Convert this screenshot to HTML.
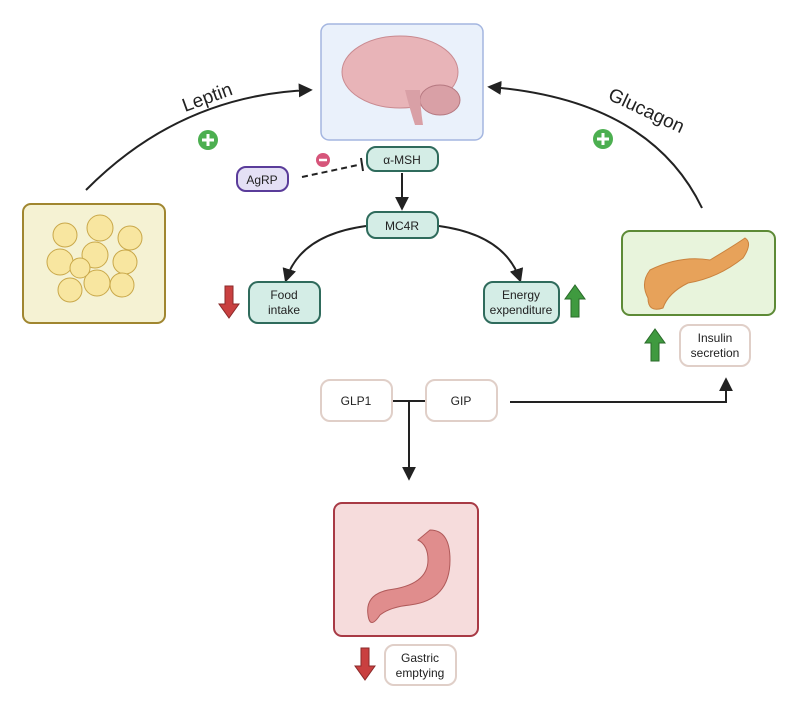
<!DOCTYPE html>
<html><head><style>body{margin:0;background:#fff}svg{display:block}text{font-family:"Liberation Sans",sans-serif}</style></head>
<body>
<svg width="800" height="710" viewBox="0 0 800 710" xmlns="http://www.w3.org/2000/svg">
<defs>
<marker id="a" viewBox="0 0 10 10" refX="8" refY="5" markerWidth="7" markerHeight="7" orient="auto"><path d="M0,0L10,5L0,10z" fill="#222"/></marker>
</defs>
<!-- boxes -->
<rect x="321" y="24" width="162" height="116" rx="8" fill="#eaf1fb" stroke="#a4b6e0" stroke-width="1.5"/>
<ellipse cx="400" cy="72" rx="58" ry="36" fill="#e8b4b8" stroke="#c98a90"/>
<ellipse cx="440" cy="100" rx="20" ry="15" fill="#d9a0a6" stroke="#b57880"/>
<path d="M405,90 q5,20 10,35 l8,0 q-3,-20 -3,-35z" fill="#d9a0a6"/>
<rect x="23" y="204" width="142" height="119" rx="8" fill="#f5f2d3" stroke="#a08630" stroke-width="2"/>
<g fill="#f8e6a0" stroke="#c9a84a">
<circle cx="65" cy="235" r="12"/><circle cx="100" cy="228" r="13"/><circle cx="130" cy="238" r="12"/><circle cx="60" cy="262" r="13"/><circle cx="95" cy="255" r="13"/><circle cx="125" cy="262" r="12"/><circle cx="70" cy="290" r="12"/><circle cx="97" cy="283" r="13"/><circle cx="122" cy="285" r="12"/><circle cx="80" cy="268" r="10"/></g>
<rect x="622" y="231" width="153" height="84" rx="8" fill="#e8f4dc" stroke="#5d8a36" stroke-width="2"/>
<path d="M650,270 q30,-15 60,-10 q25,-15 35,-22 q8,5 -2,20 q-25,20 -55,25 q-20,10 -25,25 q-15,5 -15,-10 q-8,-15 2,-28z" fill="#e7a25a" stroke="#c9823e"/>
<rect x="334" y="503" width="144" height="133" rx="8" fill="#f6dcdc" stroke="#a83a45" stroke-width="2"/>
<path d="M430,530 q20,0 20,30 q0,40 -40,45 q-20,2 -30,10 q-10,15 -12,0 q-3,-20 20,-25 q40,-5 40,-30 q0,-15 -10,-20z" fill="#e08d8d" stroke="#b05a5a"/>
<!-- connectors -->
<path d="M86,190 Q180,95 310,90" fill="none" stroke="#222" stroke-width="2" marker-end="url(#a)"/>
<path d="M702,208 Q650,100 490,87" fill="none" stroke="#222" stroke-width="2" marker-end="url(#a)"/>
<text x="185" y="112" font-size="19" fill="#222" transform="rotate(-20 185 112)">Leptin</text>
<text x="607" y="99" font-size="19" fill="#222" transform="rotate(25 607 99)">Glucagon</text>
<g><circle cx="208" cy="140" r="10" fill="#4caf50"/><path d="M202,140h12M208,134v12" stroke="#fff" stroke-width="3"/></g>
<g><circle cx="603" cy="139" r="10" fill="#4caf50"/><path d="M597,139h12M603,133v12" stroke="#fff" stroke-width="3"/></g>
<circle cx="323" cy="160" r="7" fill="#d6557a"/><path d="M319,160h8" stroke="#fff" stroke-width="2.5"/>
<path d="M302,177 L358,165" stroke="#222" stroke-width="2" stroke-dasharray="6,4"/>
<path d="M361,158 L363,171" stroke="#222" stroke-width="2"/>
<path d="M402,173 V208" stroke="#222" stroke-width="2" marker-end="url(#a)"/>
<path d="M366,226 Q300,235 286,280" fill="none" stroke="#222" stroke-width="2" marker-end="url(#a)"/>
<path d="M439,226 Q505,235 520,280" fill="none" stroke="#222" stroke-width="2" marker-end="url(#a)"/>
<path d="M392,401 H426 M409,401 V478" stroke="#222" stroke-width="2" fill="none" marker-end="url(#a)"/>
<path d="M510,402 H726 V380" stroke="#222" stroke-width="2" fill="none" marker-end="url(#a)"/>
<!-- nodes -->
<g font-size="12" fill="#222" text-anchor="middle">
<rect x="367" y="147" width="71" height="24" rx="9" fill="#d4ede6" stroke="#2f6b5c" stroke-width="2"/><text x="402" y="164">α-MSH</text>
<rect x="237" y="167" width="51" height="24" rx="9" fill="#e4e0f5" stroke="#5a3c9a" stroke-width="2"/><text x="262" y="184">AgRP</text>
<rect x="367" y="212" width="71" height="26" rx="9" fill="#d4ede6" stroke="#2f6b5c" stroke-width="2"/><text x="402" y="230">MC4R</text>
<rect x="249" y="282" width="71" height="41" rx="9" fill="#d4ede6" stroke="#2f6b5c" stroke-width="2"/><text x="284" y="299">Food</text><text x="284" y="314">intake</text>
<rect x="484" y="282" width="75" height="41" rx="9" fill="#d4ede6" stroke="#2f6b5c" stroke-width="2"/><text x="521" y="299">Energy</text><text x="521" y="314">expenditure</text>
<rect x="680" y="325" width="70" height="41" rx="9" fill="#fff" stroke="#e0cfc8" stroke-width="2"/><text x="715" y="342">Insulin</text><text x="715" y="357">secretion</text>
<rect x="321" y="380" width="71" height="41" rx="9" fill="#fff" stroke="#e0cfc8" stroke-width="2"/><text x="356" y="405">GLP1</text>
<rect x="426" y="380" width="71" height="41" rx="9" fill="#fff" stroke="#e0cfc8" stroke-width="2"/><text x="461" y="405">GIP</text>
<rect x="385" y="645" width="71" height="40" rx="9" fill="#fff" stroke="#e0cfc8" stroke-width="2"/><text x="420" y="662">Gastric</text><text x="420" y="677">emptying</text>
</g>
<!-- arrows -->
<path d="M225,286h8v18h6l-10,14l-10,-14h6z" fill="#c94040" stroke="#8a2a2a"/>
<path d="M361,648h8v18h6l-10,14l-10,-14h6z" fill="#c94040" stroke="#8a2a2a"/>
<path d="M571,317h8v-18h6l-10,-14l-10,14h6z" fill="#3f9a3f" stroke="#2a6a2a"/>
<path d="M651,361h8v-18h6l-10,-14l-10,14h6z" fill="#3f9a3f" stroke="#2a6a2a"/>
</svg>
</body></html>
